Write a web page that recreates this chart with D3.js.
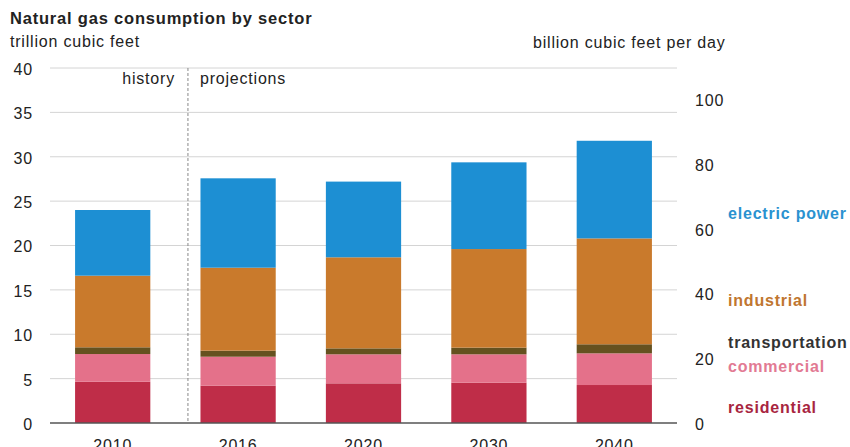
<!DOCTYPE html>
<html>
<head>
<meta charset="utf-8">
<script src="https://cdn.jsdelivr.net/npm/d3@7"></script>
<style>
  html, body { margin: 0; padding: 0; background: #fff; }
  svg { display: block; font-family: "Liberation Sans", Arial, sans-serif; }
</style>
</head>
<body>
<svg id="chart" width="850" height="447"></svg>
<script>
// Natural gas consumption by sector, trillion cubic feet
const years = ["2010", "2016", "2020", "2030", "2040"];
const sectors = ["residential", "commercial", "transportation", "industrial", "electric power"];
const residential   = [4.65, 4.20, 4.47, 4.54, 4.28];
const commercial    = [3.12, 3.27, 3.27, 3.20, 3.57];
const transportation = [0.76, 0.68, 0.67, 0.75, 1.02];
const industrial    = [8.07, 9.35, 10.26, 11.11, 11.93];
const electricPower = [7.40, 10.07, 8.53, 9.77, 11.00];

const leftTicks = [0, 5, 10, 15, 20, 25, 30, 35, 40];
const rightTicks = [0, 20, 40, 60, 80, 100];

const barColors = ["#bf2d48", "#e4718a", "#65511f", "#c97a2c", "#1d8fd3"];
const labelColors = ["#a8253f", "#e27a93", "#333333", "#c0762f", "#2a92d0"];

const rows = years.map((yr, i) => ({
  year: yr,
  "residential": residential[i],
  "commercial": commercial[i],
  "transportation": transportation[i],
  "industrial": industrial[i],
  "electric power": electricPower[i]
}));

const svg = d3.select("#chart");
const plot = { left: 50, right: 677, top: 68, bottom: 423 };

const x = d3.scaleBand().domain(years).range([plot.left, plot.right])
  .paddingInner(0.4).paddingOuter(0.2);
const y = d3.scaleLinear().domain([0, 40]).range([plot.bottom, plot.top]);
// right axis: billion cubic feet per day = tcf/yr * 1000 / 365
const yRight = d3.scaleLinear().domain([0, 40 * 1000 / 365]).range([plot.bottom, plot.top]);

const textStyle = sel => sel.attr("font-size", 16).attr("letter-spacing", 0.8).attr("fill", "#222");

// title and units
svg.append("text").attr("x", 10).attr("y", 24).text("Natural gas consumption by sector")
  .attr("font-size", 16.5).attr("font-weight", "bold").attr("letter-spacing", 0.8).attr("fill", "#222");
svg.append("text").attr("x", 10).attr("y", 47).text("trillion cubic feet").call(textStyle);
svg.append("text").attr("x", 533).attr("y", 48).text("billion cubic feet per day").call(textStyle);

// gridlines
svg.append("g").selectAll("line").data(leftTicks.filter(d => d > 0)).join("line")
  .attr("x1", plot.left).attr("x2", plot.right)
  .attr("y1", d => y(d)).attr("y2", d => y(d))
  .attr("stroke", "#d4d4d4").attr("stroke-width", 1);

// left axis
const leftAxis = svg.append("g").attr("transform", `translate(${plot.left - 17},0)`)
  .call(d3.axisLeft(y).tickValues(leftTicks).tickSize(0).tickPadding(0));
leftAxis.select(".domain").remove();
leftAxis.selectAll("text").attr("font-size", 16).attr("letter-spacing", 0.8)
  .attr("fill", "#222").attr("dy", "0.4em").attr("font-family", null);

// right axis
const rightAxis = svg.append("g").attr("transform", `translate(695,0)`)
  .call(d3.axisRight(yRight).tickValues(rightTicks).tickSize(0).tickPadding(0));
rightAxis.select(".domain").remove();
rightAxis.selectAll("text").attr("font-size", 16).attr("letter-spacing", 0.8)
  .attr("fill", "#222").attr("dy", "0.4em").attr("font-family", null);

// stacked bars
const stack = d3.stack().keys(sectors)(rows);
svg.append("g").selectAll("g").data(stack).join("g")
  .attr("fill", (d, i) => barColors[i])
  .selectAll("rect").data(d => d).join("rect")
  .attr("x", d => x(d.data.year))
  .attr("width", x.bandwidth())
  .attr("y", d => y(d[1]))
  .attr("height", d => y(d[0]) - y(d[1]));

// baseline
svg.append("line").attr("x1", plot.left).attr("x2", plot.right)
  .attr("y1", y(0)).attr("y2", y(0)).attr("stroke", "#555").attr("stroke-width", 1.5);

// history / projections divider
const divX = x("2016") - x.step() * 0.1;
svg.append("line").attr("x1", divX).attr("x2", divX)
  .attr("y1", y(40)).attr("y2", y(0))
  .attr("stroke", "#888").attr("stroke-width", 1).attr("stroke-dasharray", "3,2");
svg.append("text").attr("x", divX - 13).attr("y", 84).attr("text-anchor", "end")
  .text("history").call(textStyle);
svg.append("text").attr("x", divX + 12).attr("y", 84).text("projections").call(textStyle);

// x axis labels
svg.append("g").selectAll("text").data(years).join("text")
  .attr("x", d => x(d) + x.bandwidth() / 2).attr("y", 451)
  .attr("text-anchor", "middle").text(d => d).call(textStyle);

// sector labels on the right
const labelAt = [1.15, 5.8, 8.5, 13.2, 23.0];
svg.append("g").selectAll("text").data(sectors).join("text")
  .attr("x", 728).attr("y", (d, i) => y(labelAt[i]))
  .attr("fill", (d, i) => labelColors[i])
  .attr("font-size", 16).attr("font-weight", "bold").attr("letter-spacing", 0.8)
  .text(d => d);
</script>
</body>
</html>
